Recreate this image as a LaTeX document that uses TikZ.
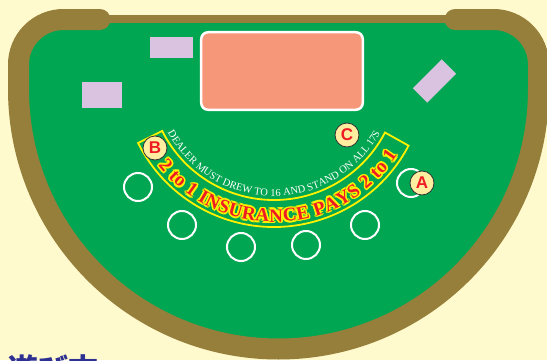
\documentclass[tikz,border=0pt]{standalone}
\usepackage{fontspec}
\setmainfont{Liberation Serif}
\newfontfamily\badgefont{Liberation Sans}
\newfontfamily\jpfont{Noto Sans CJK JP}
\usetikzlibrary{decorations.text,calc}
\definecolor{bgcream}{RGB}{255,250,206}
\definecolor{railbrown}{RGB}{150,127,58}
\definecolor{tablegreen}{RGB}{0,166,81}
\definecolor{salmon}{RGB}{246,151,122}
\definecolor{lav}{RGB}{217,195,225}
\definecolor{insyellow}{RGB}{255,242,0}
\definecolor{insred}{RGB}{237,28,36}
\definecolor{badgefill}{RGB}{255,238,160}
\definecolor{navy}{RGB}{46,49,146}
\tikzset{
  rail/.style={draw=railbrown, line width=21, line cap=round, line join=round},
  bet/.style={circle, draw=white, line width=2, minimum size=28, inner sep=0},
  badge/.style={circle, draw=black!80, line width=0.8, fill=badgefill, minimum size=24, inner sep=0,
     text=insred, font=\badgefont\bfseries\fontsize{17}{17}\selectfont},
  lavbox/.style={fill=lav, inner sep=0}
}
\begin{document}
\begin{tikzpicture}[x=1pt,y=1pt]
\useasboundingbox (0,0) rectangle (547,360);
\clip (0,0) rectangle (547,360);
\fill[bgcream] (0,0) rectangle (547,360);
% table felt and rail
\path[rail, preaction={fill=tablegreen}]
  (100,340.5) -- (63.5,340.5) arc[start angle=90,end angle=180,radius=45]
  -- (18.5,271) arc[start angle=180,end angle=360,radius=260]
  -- (538.5,295.5) arc[start angle=0,end angle=90,radius=45]
  -- (455,340.5);
\draw[railbrown, line width=8] (100,341) -- (455,341);
% dealer tray and card areas
\draw[white, line width=2.5, fill=salmon, rounded corners=7] (201.2,327.8) rectangle (362.8,250.2);
\node[lavbox, minimum width=43, minimum height=21] (lav1) at (171.5,312.5) {};
\node[lavbox, minimum width=40, minimum height=26] (lav2) at (102,265) {};
\node[lavbox, minimum width=41, minimum height=20.5, rotate=45] (lav3) at (434.5,279) {};
% insurance band
\coordinate (c) at (274,285);
\draw[insyellow, line width=1.8, line join=miter]
  ($(c)+(206.6:125)$) arc[start angle=206.6,end angle=332.6,radius=125]
  -- ($(c)+(332.3:152)$) arc[start angle=332.3,end angle=206.6,radius=152] -- cycle;
\path[decorate, decoration={text along path, text align=center,
   text={|\fontsize{10.5}{12}\selectfont\color{white}|DEALER MUST DREW TO 16 AND STAND ON ALL 17S}}]
  ($(c)+(205:121)$) arc[start angle=205,end angle=335,radius=121];
\foreach \dx/\dy in {1.7/0,-1.7/0,0/1.7,0/-1.7,1.2/1.2,-1.2/1.2,1.2/-1.2,-1.2/-1.2}{
\path[decorate, decoration={text along path, text align=fit to path,
   text={|\fontsize{19}{20}\selectfont\bfseries\color{insyellow}|2 to 1 INSURANCE PAYS 2 to 1}}]
  ($(274+\dx,285+\dy)+(218:147)$) arc[start angle=218,end angle=327,radius=147];
}
\path[decorate, decoration={text along path, text align=fit to path,
   text={|\fontsize{19}{20}\selectfont\bfseries\color{insred}|2 to 1 INSURANCE PAYS 2 to 1}}]
  ($(c)+(218:147)$) arc[start angle=218,end angle=327,radius=147];
% betting spots
\node[bet] (s1) at (138,173) {};
\node[bet] (s2) at (182,135) {};
\node[bet] (s3) at (241,113) {};
\node[bet] (s4) at (306,115) {};
\node[bet] (s5) at (365,135) {};
\node[bet] (s6) at (411,177) {};
% badges
\node[badge] (bA) at (422,177) {A};
\node[badge] (bB) at (155,212) {B};
\node[badge] (bC) at (347,225) {C};
% heading (cut off)
\node[anchor=base west, inner sep=0, text=navy, font=\jpfont\bfseries\fontsize{30}{30}\selectfont] (jp) at (8,-20) {遊び方};
\end{tikzpicture}
\end{document}
